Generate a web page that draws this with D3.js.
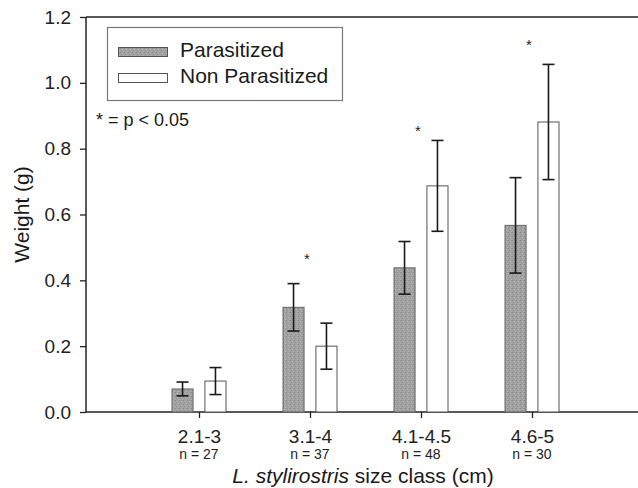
<!DOCTYPE html>
<html>
<head>
<meta charset="utf-8">
<script src="https://cdn.jsdelivr.net/npm/d3@7"></script>
<style>
  html, body { margin: 0; padding: 0; background: #fff; }
  svg { display: block; font-family: "Liberation Sans", Arial, sans-serif; }
  .tick text { fill: #222; }
</style>
</head>
<body>
<div id="chart"></div>
<script>
'use strict';

// ── Data ────────────────────────────────────────────────────────────────────
const categories     = ['2.1-3', '3.1-4', '4.1-4.5', '4.6-5'];
const sampleSizes    = ['n = 27', 'n = 37', 'n = 48', 'n = 30'];
const seriesNames    = ['Parasitized', 'Non Parasitized'];
const parasitized    = [0.070, 0.318, 0.438, 0.567];
const parasitizedErr = [0.021, 0.072, 0.080, 0.145];
const nonParasitized = [0.094, 0.200, 0.687, 0.881];
const nonParasitErr  = [0.041, 0.070, 0.138, 0.175];
const starLevels     = [null, 0.474, 0.863, 1.125];   // where the "*" sits
const yTicks         = [0, 0.2, 0.4, 0.6, 0.8, 1.0, 1.2];

const W = 638, H = 488;
const M = { top: 17, right: -2, bottom: 76, left: 86 };
const plotBottom = H - M.bottom;

const svg = d3.select('#chart').append('svg')
  .attr('width', W).attr('height', H)
  .attr('viewBox', `0 0 ${W} ${H}`);

// speckled grey fill for the parasitized bars
const defs = svg.append('defs');
const pat = defs.append('pattern')
  .attr('id', 'speckle').attr('patternUnits', 'userSpaceOnUse')
  .attr('width', 4).attr('height', 4);
pat.append('rect').attr('width', 4).attr('height', 4).attr('fill', '#a2a2a2');
[[0, 0, '#8c8c8c'], [2, 1, '#b4b4b4'], [1, 2, '#939393'], [3, 3, '#b0b0b0'], [3, 0, '#9a9a9a']]
  .forEach(([px, py, c]) => pat.append('rect')
    .attr('x', px).attr('y', py).attr('width', 1).attr('height', 1).attr('fill', c));

// ── Scales ──────────────────────────────────────────────────────────────────
const y = d3.scaleLinear().domain([0, 1.2]).range([plotBottom, M.top]);
const x = d3.scaleLinear().domain([0, 5]).range([88, 643]);
const sub = d3.scaleBand().domain(seriesNames).range([-27, 27]).paddingInner(0.36);

// ── Axes ────────────────────────────────────────────────────────────────────
const yAxis = svg.append('g')
  .attr('transform', `translate(${M.left},0)`)
  .call(d3.axisLeft(y).tickValues(yTicks).tickFormat(d3.format('.1f'))
    .tickSize(6).tickSizeOuter(0).tickPadding(9));
yAxis.select('.domain').remove();
yAxis.selectAll('.tick line').attr('stroke', '#222').attr('stroke-width', 1.3);
yAxis.selectAll('.tick text').attr('font-size', 19).attr('font-family', 'Liberation Sans, Arial, sans-serif');

const xAxis = svg.append('g')
  .attr('transform', `translate(0,${plotBottom})`)
  .call(d3.axisBottom(x).tickValues(d3.range(1, categories.length + 1))
    .tickFormat(i => categories[i - 1]).tickSize(6).tickPadding(12));
xAxis.select('.domain').remove();
xAxis.selectAll('.tick line').attr('stroke', '#222').attr('stroke-width', 1.3);
xAxis.selectAll('.tick text').attr('font-size', 19).attr('font-family', 'Liberation Sans, Arial, sans-serif');

// sample sizes under the class labels
svg.append('g').selectAll('text')
  .data(sampleSizes)
  .enter().append('text')
  .attr('x', (d, i) => x(i + 1))
  .attr('y', plotBottom + 47)
  .attr('text-anchor', 'middle')
  .attr('font-size', 14)
  .attr('fill', '#222')
  .text(d => d);

// frame lines: left, bottom, top (right edge falls outside the picture)
const frame = svg.append('g').attr('stroke', '#222').attr('stroke-width', 1.5);
frame.append('line').attr('x1', M.left).attr('x2', M.left).attr('y1', y(1.2)).attr('y2', y(0));
frame.append('line').attr('x1', M.left).attr('x2', W - M.right).attr('y1', y(0)).attr('y2', y(0));
frame.append('line').attr('x1', M.left).attr('x2', W - M.right).attr('y1', y(1.2)).attr('y2', y(1.2));

// ── Bars ────────────────────────────────────────────────────────────────────
const rows = categories.map((c, i) => ([
  { key: seriesNames[0], i, v: parasitized[i],    e: parasitizedErr[i] },
  { key: seriesNames[1], i, v: nonParasitized[i], e: nonParasitErr[i] },
]));

const groups = svg.append('g').selectAll('g')
  .data(rows)
  .enter().append('g')
  .attr('transform', (d, i) => `translate(${x(i + 1)},0)`);

groups.selectAll('rect')
  .data(d => d)
  .enter().append('rect')
  .attr('x', d => sub(d.key))
  .attr('width', sub.bandwidth())
  .attr('y', d => y(d.v))
  .attr('height', d => y(0) - y(d.v))
  .attr('fill', d => d.key === seriesNames[0] ? 'url(#speckle)' : '#fff')
  .attr('stroke', d => d.key === seriesNames[0] ? '#666' : '#555')
  .attr('stroke-width', 1);

// error bars
const err = groups.selectAll('g.err')
  .data(d => d)
  .enter().append('g')
  .attr('class', 'err')
  .attr('stroke', '#1a1a1a')
  .attr('stroke-width', 1.6)
  .attr('transform', d => `translate(${sub(d.key) + sub.bandwidth() / 2},0)`);
err.append('line').attr('x1', 0).attr('x2', 0)
  .attr('y1', d => y(d.v + d.e)).attr('y2', d => y(d.v - d.e));
err.append('line').attr('x1', -6).attr('x2', 6)
  .attr('y1', d => y(d.v + d.e)).attr('y2', d => y(d.v + d.e));
err.append('line').attr('x1', -6).attr('x2', 6)
  .attr('y1', d => y(d.v - d.e)).attr('y2', d => y(d.v - d.e));

// significance stars
svg.append('g').selectAll('text')
  .data(starLevels.map((s, i) => ({ s, i })).filter(d => d.s !== null))
  .enter().append('text')
  .attr('x', d => x(d.i + 1) - 3)
  .attr('y', d => y(d.s) + 8)
  .attr('text-anchor', 'middle')
  .attr('font-size', 15)
  .attr('fill', '#222')
  .text('*');

// ── Legend ──────────────────────────────────────────────────────────────────
const lg = svg.append('g');
lg.append('rect')
  .attr('x', 107.5).attr('y', 27.5).attr('width', 235).attr('height', 73)
  .attr('fill', '#fff').attr('stroke', '#7a7a7a').attr('stroke-width', 1.2);
seriesNames.forEach((name, k) => {
  lg.append('rect')
    .attr('x', 118.5).attr('y', 47.5 + k * 26).attr('width', 49).attr('height', 9)
    .attr('fill', k === 0 ? 'url(#speckle)' : '#fff')
    .attr('stroke', '#555').attr('stroke-width', 1);
  lg.append('text')
    .attr('x', 180).attr('y', 57 + k * 26)
    .attr('font-size', 21).attr('fill', '#1a1a1a')
    .text(name);
});

svg.append('text')
  .attr('x', 96).attr('y', 126)
  .attr('font-size', 18).attr('fill', '#1a1a1a')
  .text('* = p < 0.05');

// ── Axis titles ─────────────────────────────────────────────────────────────
svg.append('text')
  .attr('transform', `translate(29,${(y(0) + y(1.2)) / 2}) rotate(-90)`)
  .attr('text-anchor', 'middle')
  .attr('font-size', 21).attr('fill', '#1a1a1a')
  .text('Weight (g)');

const xt = svg.append('text')
  .attr('x', 363).attr('y', 483)
  .attr('text-anchor', 'middle')
  .attr('font-size', 21).attr('fill', '#1a1a1a');
xt.append('tspan').attr('font-style', 'italic').text('L. stylirostris');
xt.append('tspan').text(' size class (cm)');
</script>
</body>
</html>
